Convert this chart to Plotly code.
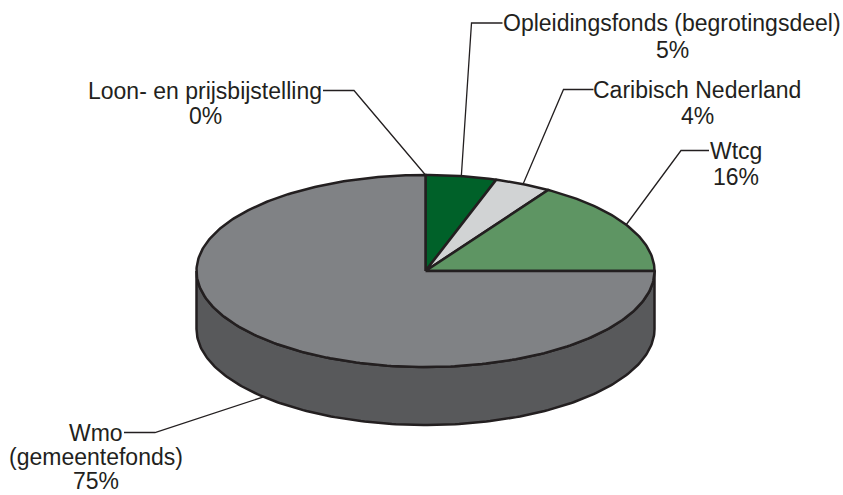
import math
import plotly.graph_objects as go

# ---- data ----
categories = ["Loon- en prijsbijstelling", "Opleidingsfonds (begrotingsdeel)",
              "Caribisch Nederland", "Wtcg", "Wmo (gemeentefonds)"]
values = [0, 5, 4, 16, 75]

# label text lines (name part)
label_lines = [["Loon- en prijsbijstelling"], ["Opleidingsfonds (begrotingsdeel)"],
               ["Caribisch Nederland"], ["Wtcg"], ["Wmo", "(gemeentefonds)"]]

# ---- styles / layout ----
top_colors = ["#9a9a9a", "#006129", "#d1d3d4", "#5e9563", "#808285"]
side_colors = ["#6f6f6f", "#004a1f", "#a9abad", "#47744b", "#58595b"]
edge_color = "#231f20"
text_color = "#231f20"
FONT = "Liberation Sans, Arial, sans-serif"
FS = 23
W, H = 843, 495
cx, cy, rx, ry, depth = 425.5, 271, 229, 96, 58

# label placement: (center x, first line y, line spacing, leader side, elbow offset)
label_pos = [
    (205, 90.5, 25, "right", 31),
    (672, 23, 27, "left", 31),
    (697, 89.5, 26, "left", 30),
    (736, 150.5, 26, "left", 28),
    (96, 432.5, 24, "right", 31),
]
text_half_width = [117, 168.5, 102.5, 26, 27]


def pt(theta_deg, dy=0.0):
    t = math.radians(theta_deg)
    return cx + rx * math.sin(t), cy - ry * math.cos(t) + dy


def arc(a0, a1, dy=0.0, n=None):
    if n is None:
        n = max(2, int(abs(a1 - a0) / 1.0) + 1)
    xs, ys = [], []
    for i in range(n + 1):
        a = a0 + (a1 - a0) * i / n
        x, y = pt(a, dy)
        xs.append(x)
        ys.append(y)
    return xs, ys


total = sum(values)
angles = []
acc = 0.0
for v in values:
    a0 = acc / total * 360
    acc += v
    a1 = acc / total * 360
    angles.append((a0, a1))

fig = go.Figure()

# side walls (visible front half: 90..270 deg clockwise from top)
for i, (a0, a1) in enumerate(angles):
    s, e = max(a0, 90), min(a1, 270)
    if e <= s:
        continue
    tx, ty = arc(s, e)
    bx, by = arc(e, s, dy=depth)
    fig.add_trace(go.Scatter(x=tx + bx + [tx[0]], y=ty + by + [ty[0]], mode="lines",
                             fill="toself", fillcolor=side_colors[i],
                             line=dict(color=edge_color, width=2.5),
                             hoverinfo="skip", showlegend=False))

# top wedges
for i, (a0, a1) in enumerate(angles):
    if a1 - a0 <= 0:
        continue
    ax, ay = arc(a0, a1)
    fig.add_trace(go.Scatter(x=[cx] + ax + [cx], y=[cy] + ay + [cy], mode="lines",
                             fill="toself", fillcolor=top_colors[i],
                             line=dict(color=edge_color, width=2.5),
                             hoverinfo="skip", showlegend=False))

# labels and leader lines
annotations = []
for i, (a0, a1) in enumerate(angles):
    lx, ly, sp, side, elbow = label_pos[i]
    lines = label_lines[i] + [f"{values[i]:.0f}%"]
    for k, ln in enumerate(lines):
        annotations.append(dict(x=lx, y=ly + k * sp, xref="x", yref="y", text=ln,
                                showarrow=False, xanchor="center", yanchor="middle",
                                font=dict(family=FONT, size=FS, color=text_color)))
    mid = (a0 + a1) / 2
    # front half anchors on lower rim, back half on top rim
    if 90 < mid < 270:
        ex, ey = pt(mid, depth)
    else:
        ex, ey = pt(mid)
    if side == "right":
        sx = lx + text_half_width[i] + 1
        kx = sx + elbow
    else:
        sx = lx - text_half_width[i] - 1
        kx = sx - elbow
    fig.add_trace(go.Scatter(x=[sx, kx, ex], y=[ly, ly, ey], mode="lines",
                             line=dict(color=edge_color, width=1.3),
                             hoverinfo="skip", showlegend=False))

fig.update_layout(
    width=W, height=H, margin=dict(l=0, r=0, t=0, b=0),
    paper_bgcolor="white", plot_bgcolor="white",
    xaxis=dict(range=[0, W], visible=False, fixedrange=True),
    yaxis=dict(range=[H, 0], visible=False, fixedrange=True),
    annotations=annotations, showlegend=False,
)

fig.write_html("out.html", config={"displayModeBar": False},
               post_script="document.body.style.margin='0';")
